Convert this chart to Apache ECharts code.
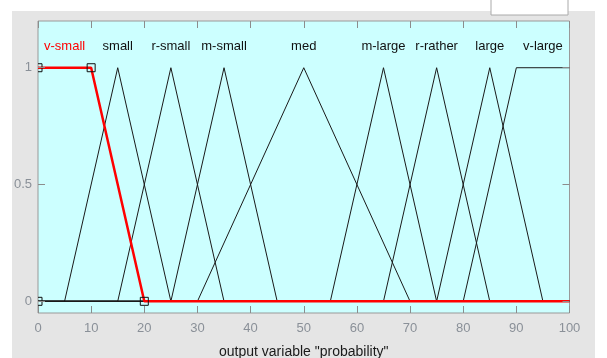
<!DOCTYPE html>
<html>
<head>
<meta charset="utf-8">
<script src="https://cdn.jsdelivr.net/npm/echarts@6/dist/echarts.min.js"></script>
<style>
html,body{margin:0;padding:0;background:#ffffff;}
#chart{width:607px;height:358px;}
</style>
</head>
<body>
<div id="chart"></div>
<script>
// Membership function names and their vertex coordinates
const mfNames = ['v-small', 'small', 'r-small', 'm-small', 'med', 'm-large', 'r-rather', 'large', 'v-large'];
const mfX = [
  [0, 10, 20, 100],
  [0, 5, 15, 25, 100],
  [0, 15, 25, 35, 100],
  [0, 25, 35, 45, 100],
  [0, 30, 50, 70, 100],
  [0, 55, 65, 75, 100],
  [0, 65, 75, 85, 100],
  [0, 75, 85, 95, 100],
  [0, 80, 90, 100]
];
const mfY = [
  [1, 1, 0, 0],
  [0, 0, 1, 0, 0],
  [0, 0, 1, 0, 0],
  [0, 0, 1, 0, 0],
  [0, 0, 1, 0, 0],
  [0, 0, 1, 0, 0],
  [0, 0, 1, 0, 0],
  [0, 0, 1, 0, 0],
  [0, 0, 1, 1]
];
const labelX = [5, 15, 25, 35, 50, 65, 75, 85, 95];
const labelY = 1.09;
const markerX = [0, 0, 10, 20];
const markerY = [0, 1, 1, 0];
const selectedIndex = 0;
const xTicks = [0, 10, 20, 30, 40, 50, 60, 70, 80, 90, 100];
const yTicks = [0, 0.5, 1];
const xName = 'output variable "probability"';

const chart = echarts.init(document.getElementById('chart'), null, {renderer: 'canvas'});

const series = [];
mfNames.forEach((n, i) => {
  if (i === selectedIndex) return;
  series.push({
    type: 'line', name: n, data: mfX[i].map((x, k) => [x, mfY[i][k]]),
    symbol: 'none', lineStyle: {color: '#1a1a1a', width: 1}, z: 3, animation: false
  });
});
series.push({
  type: 'line', name: mfNames[selectedIndex],
  data: mfX[selectedIndex].map((x, k) => [x, mfY[selectedIndex][k]]),
  symbol: 'none', lineStyle: {color: '#ff0000', width: 2.5}, z: 5, animation: false
});
series.push({
  type: 'custom', clip: true, z: 6, animation: false,
  data: markerX.map((x, k) => [x, markerY[k]]),
  renderItem: function (params, api) {
    const p = api.coord([api.value(0), api.value(1)]);
    return {type: 'rect', shape: {x: p[0] - 4, y: p[1] - 4, width: 8, height: 8},
      style: {fill: null, stroke: '#111', lineWidth: 1}};
  }
});
series.push({
  type: 'custom', clip: true, z: 7, animation: false,
  data: labelX.map((x, k) => [x, labelY, mfNames[k]]),
  renderItem: function (params, api) {
    const p = api.coord([api.value(0), api.value(1)]);
    const idx = params.dataIndex;
    return {type: 'text', x: p[0], y: p[1],
      style: {text: mfNames[idx], fill: idx === selectedIndex ? '#ff0000' : '#111',
        font: '13px "Liberation Sans", Arial, sans-serif', align: 'center', verticalAlign: 'middle'}};
  }
});

const tickStyle = {show: true, inside: true, length: 7, lineStyle: {color: '#8c8c8c', width: 1}};
const noLine = {show: false, onZero: false};

chart.setOption({
  animation: false,
  backgroundColor: '#ffffff',
  graphic: [
    {type: 'rect', z: -10, shape: {x: 12, y: 11, width: 583, height: 347}, style: {fill: '#e5e5e5'}},
    {type: 'rect', z: -9, shape: {x: 491, y: -2, width: 77, height: 17}, style: {fill: '#ffffff', stroke: '#aaaaaa', lineWidth: 1}}
  ],
  grid: {left: 38, right: 37.5, top: 21, height: 292, show: true, containLabel: false,
    outerBoundsMode: 'none',
    backgroundColor: '#ccffff', borderColor: '#999', borderWidth: 1},
  xAxis: [
    {type: 'value', min: 0, max: 100, interval: 10, position: 'bottom', z: 10,
      name: xName, nameLocation: 'middle', nameGap: 32,
      nameTextStyle: {color: '#1a1a1a', fontSize: 14, fontFamily: 'Liberation Sans'},
      axisLine: noLine, axisTick: tickStyle, splitLine: {show: false},
      axisLabel: {color: '#8a9098', fontSize: 13, fontFamily: 'Liberation Sans', margin: 9,
        formatter: v => xTicks.indexOf(v) >= 0 ? String(v) : ''}},
    {type: 'value', min: 0, max: 100, interval: 10, position: 'top', z: 10,
      axisLine: noLine, axisTick: tickStyle, splitLine: {show: false}, axisLabel: {show: false}}
  ],
  yAxis: [
    {type: 'value', min: -0.05, max: 1.2, position: 'left', z: 10,
      axisLine: noLine, splitLine: {show: false},
      axisTick: Object.assign({customValues: yTicks}, tickStyle),
      axisLabel: {customValues: yTicks, color: '#8a9098', fontSize: 13, fontFamily: 'Liberation Sans', margin: 6}},
    {type: 'value', min: -0.05, max: 1.2, position: 'right', z: 10,
      axisLine: noLine, splitLine: {show: false},
      axisTick: Object.assign({customValues: yTicks}, tickStyle),
      axisLabel: {show: false, customValues: yTicks}}
  ],
  series: series
});
</script>
</body>
</html>
